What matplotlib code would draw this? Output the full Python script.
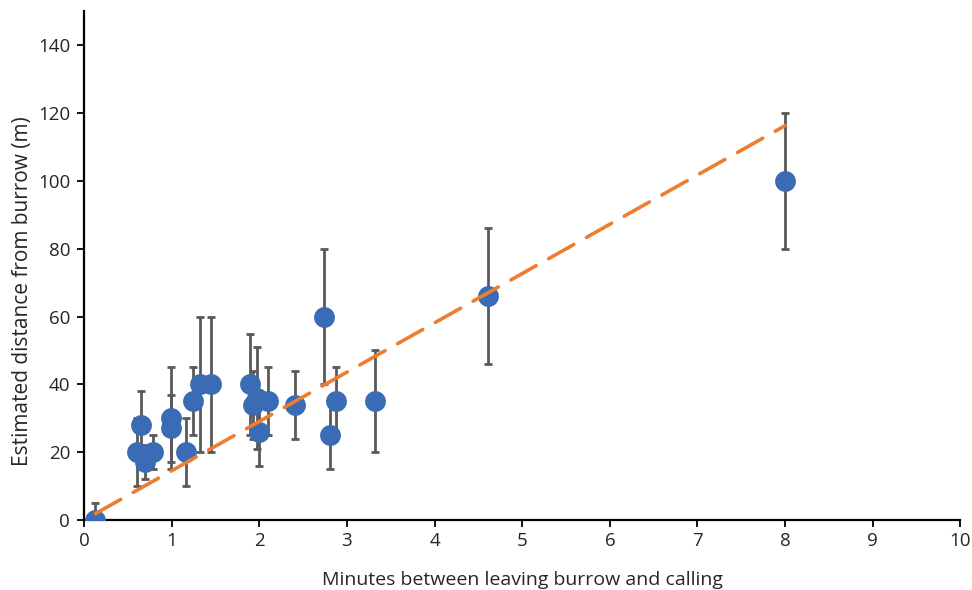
import matplotlib
matplotlib.use("Agg")
import matplotlib.pyplot as plt
import numpy as np

plt.rcParams['font.family'] = ['Open Sans', 'DejaVu Sans']

minutes = [0.13, 0.60, 0.65, 0.70, 0.79, 0.99, 0.99, 1.16, 1.24, 1.32, 1.45,
           1.89, 1.93, 1.97, 2.00, 2.10, 2.41, 2.74, 2.81, 2.87, 3.32, 4.61, 8.00]
distance = [0, 20, 28, 17, 20, 30, 27, 20, 35, 40, 40,
            40, 34, 36, 26, 35, 34, 60, 25, 35, 35, 66, 100]
error = [5, 10, 10, 5, 5, 15, 10, 10, 10, 20, 20,
         15, 10, 15, 10, 10, 10, 20, 10, 10, 15, 20, 20]

x_ticks = list(range(0, 11))
y_ticks = list(range(0, 141, 20))

fig = plt.figure(figsize=(9.72, 5.90), dpi=100)
ax = fig.add_axes([0.0865, 0.1186, 0.9015, 0.862])

ax.errorbar(minutes, distance, yerr=error, fmt='none', ecolor='#595959',
            elinewidth=2.0, capsize=3, capthick=2.0, zorder=2)
ax.plot(minutes, distance, 'o', color='#3A6BB5', markersize=15, zorder=3,
        markeredgewidth=0)

# linear trend line through the origin
xa = np.array(minutes)
ya = np.array(distance)
slope = np.sum(xa * ya) / np.sum(xa * xa)
xl = np.array([xa.min(), xa.max()])
ax.plot(xl, slope * xl, color='#ED7D31', linewidth=2.6,
        dashes=(8, 4), zorder=4, dash_capstyle='round')

ax.set_xlim(0, 10)
ax.set_ylim(0, 150)
ax.set_xticks(x_ticks)
ax.set_yticks(y_ticks)
for s in ['top', 'right']:
    ax.spines[s].set_visible(False)
for s in ['left', 'bottom']:
    ax.spines[s].set_linewidth(1.6)
    ax.spines[s].set_color('black')
ax.tick_params(axis='both', direction='out', length=5, width=1.3,
               labelsize=13.5, colors='black', labelcolor='#262626')
ax.tick_params(axis='y', pad=5)
ax.set_xlabel('Minutes between leaving burrow and calling', fontsize=14,
              color='#262626', labelpad=15)
ax.set_ylabel('Estimated distance from burrow (m)', fontsize=15,
              color='#262626')
ax.yaxis.set_label_coords(-0.058, 0.45)

fig.savefig('out.png', dpi=100)
